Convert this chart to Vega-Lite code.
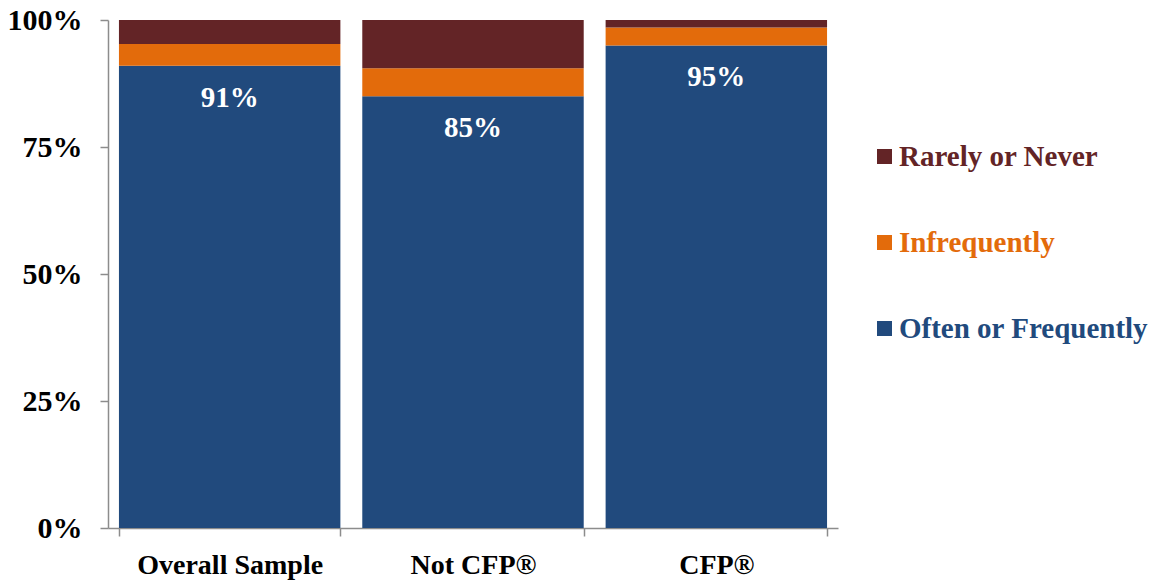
{
  "$schema": "https://vega.github.io/schema/vega-lite/v6.json",
  "width": 730,
  "height": 508,
  "autosize": "none",
  "padding": {"left": 108, "top": 20, "right": 321, "bottom": 52},
  "background": "white",
  "config": {
    "view": {"stroke": null},
    "font": "Liberation Serif"
  },
  "data": {
    "values": [
      {"group": "Overall Sample", "response": "Often or Frequently", "rank": 1, "value": 0.91},
      {"group": "Overall Sample", "response": "Infrequently", "rank": 2, "value": 0.043},
      {"group": "Overall Sample", "response": "Rarely or Never", "rank": 3, "value": 0.047},
      {"group": "Not CFP®", "response": "Often or Frequently", "rank": 1, "value": 0.85},
      {"group": "Not CFP®", "response": "Infrequently", "rank": 2, "value": 0.055},
      {"group": "Not CFP®", "response": "Rarely or Never", "rank": 3, "value": 0.095},
      {"group": "CFP®", "response": "Often or Frequently", "rank": 1, "value": 0.95},
      {"group": "CFP®", "response": "Infrequently", "rank": 2, "value": 0.035},
      {"group": "CFP®", "response": "Rarely or Never", "rank": 3, "value": 0.015}
    ]
  },
  "encoding": {
    "x": {
      "field": "group",
      "type": "nominal",
      "sort": ["Overall Sample", "Not CFP®", "CFP®"],
      "scale": {"paddingInner": 0.09, "paddingOuter": 0.045},
      "axis": {
        "title": null,
        "labelAngle": 0,
        "tickBand": "extent",
        "domainColor": "#8c8c8c",
        "domainWidth": 1.5,
        "tickColor": "#8c8c8c",
        "tickWidth": 1.5,
        "tickSize": 8,
        "labelPadding": 15,
        "labelLimit": 300,
        "labelFont": "Liberation Serif",
        "labelFontSize": 28,
        "labelFontWeight": "bold",
        "labelColor": "#000000"
      }
    }
  },
  "layer": [
    {
      "mark": {"type": "bar"},
      "encoding": {
        "y": {
          "field": "value",
          "type": "quantitative",
          "stack": "zero",
          "scale": {"domain": [0, 1], "nice": false},
          "axis": {
            "title": null,
            "values": [0, 0.25, 0.5, 0.75, 1],
            "format": ".0%",
            "grid": false,
            "domainColor": "#8c8c8c",
            "domainWidth": 1.5,
            "tickColor": "#8c8c8c",
            "tickWidth": 1.5,
            "tickSize": 8,
            "labelPadding": 18,
            "labelFont": "Liberation Serif",
            "labelFontSize": 30,
            "labelFontWeight": "bold",
            "labelColor": "#000000"
          }
        },
        "order": {"field": "rank", "type": "quantitative"},
        "color": {
          "field": "response",
          "type": "nominal",
          "scale": {
            "domain": ["Rarely or Never", "Infrequently", "Often or Frequently"],
            "range": ["#632426", "#e36b0b", "#214a7d"]
          },
          "legend": {
            "title": null,
            "orient": "none",
            "legendX": 762,
            "legendY": 122,
            "symbolType": "square",
            "symbolSize": 225,
            "symbolStrokeWidth": 0,
            "symbolOpacity": 1,
            "labelFont": "Liberation Serif",
            "labelFontSize": 29,
            "labelFontWeight": "bold",
            "labelOffset": 0,
            "labelLimit": 400,
            "rowPadding": 56,
            "encode": {
              "labels": {
                "update": {"fill": {"scale": "color", "field": "value"}}
              }
            }
          }
        }
      }
    },
    {
      "transform": [{"filter": "datum.rank == 1"}],
      "mark": {
        "type": "text",
        "color": "white",
        "font": "Liberation Serif",
        "fontSize": 29,
        "fontWeight": "bold",
        "baseline": "middle",
        "dy": 32
      },
      "encoding": {
        "y": {"field": "value", "type": "quantitative", "stack": null},
        "text": {"field": "value", "type": "quantitative", "format": ".0%"}
      }
    }
  ]
}
